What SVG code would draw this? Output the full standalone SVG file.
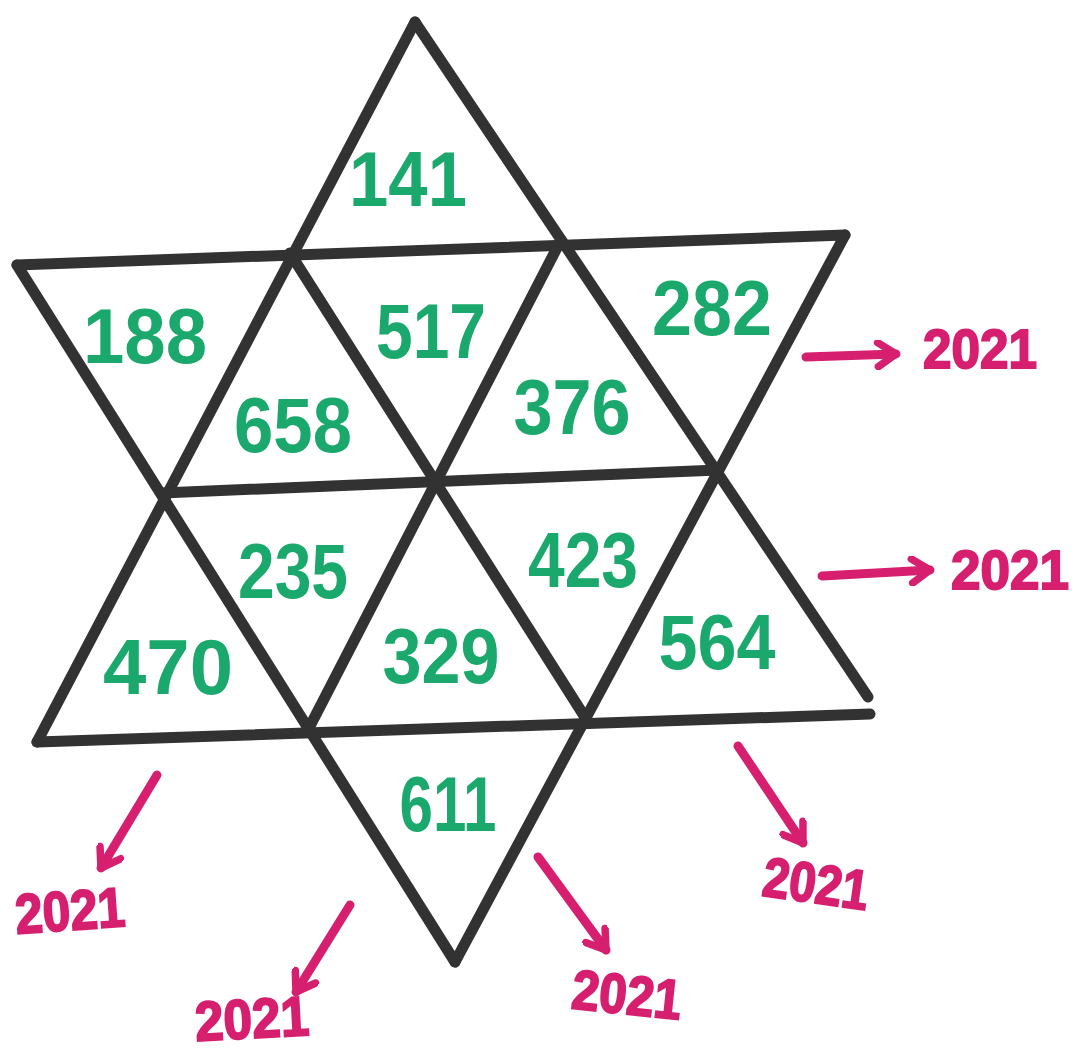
<svg xmlns="http://www.w3.org/2000/svg" width="1075" height="1054" viewBox="0 0 1075 1054">
<style>
.ln{stroke:#323232;stroke-width:11;stroke-linecap:round;fill:none}
.num{font-family:"Liberation Sans",Arial,sans-serif;font-weight:bold;font-size:78px;fill:#1aa86c;text-anchor:middle}
.yr{font-family:"Liberation Sans",Arial,sans-serif;font-weight:bold;font-size:56px;fill:#d61f6f;stroke:#d61f6f;stroke-width:2;text-anchor:middle}
.ar{stroke:#d61f6f;stroke-width:9;stroke-linecap:round;fill:none}
</style>
<defs>
<marker id="ah" viewBox="0 0 20 20" refX="16" refY="10" markerWidth="30" markerHeight="30" markerUnits="userSpaceOnUse" orient="auto">
<path d="M4 2 L16 10 L4 18" fill="none" stroke="#d61f6f" stroke-width="5" stroke-linecap="round" stroke-linejoin="round"/>
</marker>
</defs>
<rect width="1075" height="1054" fill="#ffffff"/>
<g id="star">
<line class="ln" x1="415" y1="22" x2="37" y2="742"/>
<line class="ln" x1="415" y1="22" x2="868" y2="697"/>
<line class="ln" x1="17" y1="265" x2="845" y2="235"/>
<line class="ln" x1="17" y1="265" x2="455" y2="962"/>
<line class="ln" x1="845" y1="235" x2="455" y2="962"/>
<line class="ln" x1="37" y1="742" x2="870" y2="714"/>
<line class="ln" x1="162" y1="493" x2="718" y2="470"/>
<line class="ln" x1="290" y1="253" x2="588" y2="722"/>
<line class="ln" x1="561" y1="240" x2="309" y2="728"/>
</g>
<g id="cell-141"><text class="num" x="408" y="206" textLength="118" lengthAdjust="spacingAndGlyphs">141</text></g>
<g id="cell-188"><text class="num" x="145" y="363" textLength="124" lengthAdjust="spacingAndGlyphs">188</text></g>
<g id="cell-517"><text class="num" x="431" y="358" textLength="110" lengthAdjust="spacingAndGlyphs">517</text></g>
<g id="cell-282"><text class="num" x="712" y="335" textLength="120" lengthAdjust="spacingAndGlyphs">282</text></g>
<g id="cell-658"><text class="num" x="293" y="452" textLength="118" lengthAdjust="spacingAndGlyphs">658</text></g>
<g id="cell-376"><text class="num" x="572" y="434" textLength="117" lengthAdjust="spacingAndGlyphs">376</text></g>
<g id="cell-235"><text class="num" x="293" y="598" textLength="110" lengthAdjust="spacingAndGlyphs">235</text></g>
<g id="cell-423"><text class="num" x="583" y="587" textLength="110" lengthAdjust="spacingAndGlyphs">423</text></g>
<g id="cell-470"><text class="num" x="168" y="694" textLength="130" lengthAdjust="spacingAndGlyphs">470</text></g>
<g id="cell-329"><text class="num" x="441" y="683" textLength="117" lengthAdjust="spacingAndGlyphs">329</text></g>
<g id="cell-564"><text class="num" x="717" y="669" textLength="117" lengthAdjust="spacingAndGlyphs">564</text></g>
<g id="cell-611"><text class="num" x="448" y="831" textLength="97" lengthAdjust="spacingAndGlyphs">611</text></g>
<g id="year-1"><text class="yr" x="980" y="368" textLength="114" lengthAdjust="spacingAndGlyphs">2021</text></g>
<g id="year-2"><text class="yr" x="1010" y="589" textLength="118" lengthAdjust="spacingAndGlyphs">2021</text></g>
<g id="year-3"><text class="yr" x="816" y="903" textLength="106" lengthAdjust="spacingAndGlyphs" transform="rotate(8 816 883)">2021</text></g>
<g id="year-4"><text class="yr" x="627" y="1014" textLength="110" lengthAdjust="spacingAndGlyphs" transform="rotate(6 627 994)">2021</text></g>
<g id="year-5"><text class="yr" x="70" y="930" textLength="110" lengthAdjust="spacingAndGlyphs" transform="rotate(-4 70 910)">2021</text></g>
<g id="year-6"><text class="yr" x="252" y="1038" textLength="114" lengthAdjust="spacingAndGlyphs" transform="rotate(-3 252 1020)">2021</text></g>
<g id="connectors">
<line class="ar" x1="806" y1="357" x2="896" y2="354" marker-end="url(#ah)"/>
<line class="ar" x1="822" y1="576" x2="930" y2="570" marker-end="url(#ah)"/>
<line class="ar" x1="738" y1="746" x2="803" y2="843" marker-end="url(#ah)"/>
<line class="ar" x1="538" y1="857" x2="606" y2="950" marker-end="url(#ah)"/>
<line class="ar" x1="157" y1="775" x2="101" y2="868" marker-end="url(#ah)"/>
<line class="ar" x1="350" y1="905" x2="296" y2="992" marker-end="url(#ah)"/>
</g>
</svg>
